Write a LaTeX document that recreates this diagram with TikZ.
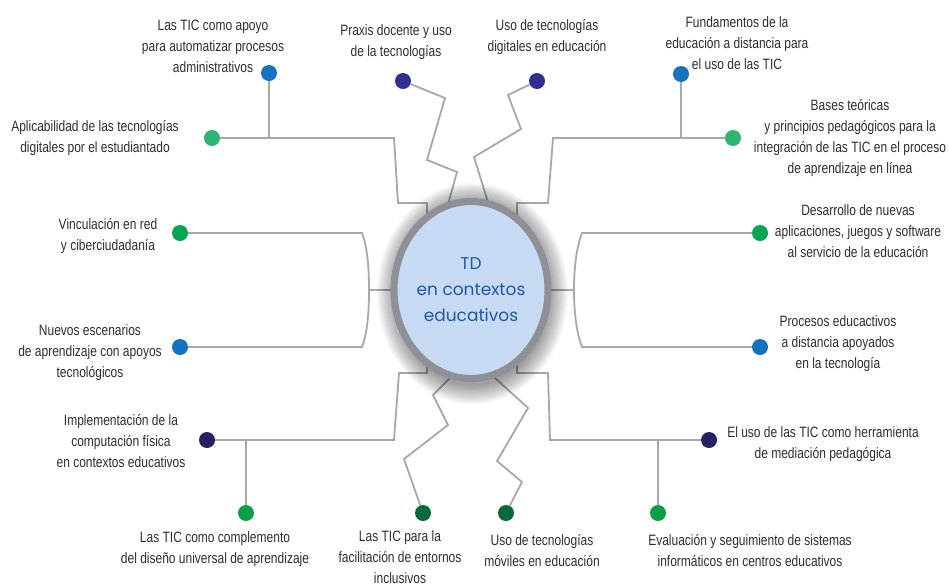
\documentclass[tikz,border=0pt]{standalone}
\usepackage{fontspec}
\setmainfont{Liberation Sans}[FakeStretch=0.8]
\newfontfamily\centerfont{Poppins}
\usetikzlibrary{shapes.geometric}
\definecolor{lineg}{HTML}{A6A8AB}
\definecolor{cblue}{HTML}{1572BE}
\definecolor{clgreen}{HTML}{2DB673}
\definecolor{cgreen}{HTML}{00A651}
\definecolor{cnavy}{HTML}{2E3192}
\definecolor{cdnavy}{HTML}{262262}
\definecolor{cmgreen}{HTML}{0F9D4A}
\definecolor{cdgreen}{HTML}{0B6B38}
\definecolor{efill}{HTML}{C6DBF3}
\definecolor{eborder}{HTML}{8E9095}
\definecolor{etext}{HTML}{2457A7}
\definecolor{ltext}{HTML}{2E2E2E}
\tikzset{
  dot/.style={circle,fill=#1,minimum size=16pt,inner sep=0pt},
  conn/.style={draw=lineg,line width=1.8pt,line join=miter},
  lbl/.style={align=center,text=ltext,font=\fontsize{15}{21}\selectfont,inner sep=0pt},
  glow/.style={fill=black,opacity=0.024},
}
\begin{document}
\begin{tikzpicture}[x=1pt,y=-1pt]
\useasboundingbox[fill=white] (0,0) rectangle (949,587);
% dots
\node[dot=cblue]   (dA) at (269,73)  {};
\node[dot=clgreen] (dB) at (212,138) {};
\node[dot=cnavy]   (dC) at (403,81)  {};
\node[dot=cnavy]   (dD) at (537,81)  {};
\node[dot=cblue]   (dE) at (681,74)  {};
\node[dot=clgreen] (dF) at (733,138) {};
\node[dot=cgreen]  (dG) at (760,233) {};
\node[dot=cblue]   (dH) at (760,347) {};
\node[dot=cgreen]  (dI) at (180,233) {};
\node[dot=cblue]   (dJ) at (180,347) {};
\node[dot=cdnavy]  (dK) at (207,440) {};
\node[dot=cmgreen] (dL) at (246,513) {};
\node[dot=cdgreen] (dM) at (423,513) {};
\node[dot=cdgreen] (dN) at (506,513) {};
\node[dot=cmgreen] (dO) at (658,513) {};
\node[dot=cdnavy]  (dP) at (709,440) {};
% free ends inside the central ellipse
\coordinate (e1) at (427,235);
\coordinate (e2) at (445,215);
\coordinate (e3) at (491,212);
\coordinate (e4) at (517,235);
\coordinate (e5) at (420,290);
\coordinate (e6) at (522,290);
\coordinate (e7) at (427,345);
\coordinate (e8) at (462,366);
\coordinate (e9) at (484,368);
\coordinate (e10) at (517,345);
\coordinate (jA) at (269,138);
\coordinate (jE) at (681,138);
\coordinate (jL) at (246,440);
\coordinate (jO) at (658,440);
% connectors
\draw[conn] (dB) -- (394,138) -- (398,203) -- (427,203) -- (e1);
\draw[conn] (dA) -- (jA);
\draw[conn] (dC) -- (445,98) -- (427,160) -- (457,172) -- (e2);
\draw[conn] (dD) -- (508,95) -- (521,129) -- (474,157) -- (e3);
\draw[conn] (dF) -- (553,138) -- (548,203) -- (517,203) -- (e4);
\draw[conn] (dE) -- (jE);
\draw[conn] (dI) -- (362,233) .. controls (367,246) and (369,265) .. (369,290)
  .. controls (369,315) and (367,334) .. (362,347) -- (dJ);
\draw[conn] (369,290) -- (e5);
\draw[conn] (dG) -- (582,233) .. controls (577,246) and (574,265) .. (574,290)
  .. controls (574,315) and (577,334) .. (582,347) -- (dH);
\draw[conn] (574,290) -- (e6);
\draw[conn] (dK) -- (394,440) -- (399,373) -- (427,373) -- (e7);
\draw[conn] (jL) -- (dL);
\draw[conn] (dM) -- (404,459) -- (448,425) -- (433,395) -- (e8);
\draw[conn] (dN) -- (522,482) -- (497,461) -- (528,408) -- (e9);
\draw[conn] (dP) -- (550,440) -- (548,373) -- (517,373) -- (e10);
\draw[conn] (jO) -- (dO);
% soft shadow round the central ellipse
\foreach \i in {1,...,18}
  \fill[glow] (472.5,293.5) ellipse ({76+\i*1.1} and {91+\i*1.1});
% central ellipse
\node[ellipse,minimum width=147pt,minimum height=177pt,inner sep=0pt,
  draw=eborder,line width=7pt,fill=efill,
  text=etext,align=center,font=\centerfont\fontsize{17}{26}\selectfont]
  (c) at (471,290) {TD\\en contextos\\educativos};
% labels
\node[lbl] (t1) at (213,46) {Las TIC como apoyo\\para automatizar procesos\\administrativos};
\node[lbl] (t2) at (95,138) {Aplicabilidad de las tecnologías\\digitales por el estudiantado};
\node[lbl] (t3) at (396,42) {Praxis docente y uso\\de la tecnologías};
\node[lbl] (t4) at (547,37) {Uso de tecnologías\\digitales en educación};
\node[lbl] (t5) at (737,43) {Fundamentos de la\\educación a distancia para\\el uso de las TIC};
\node[lbl] (t6) at (850,138) {Bases teóricas\\y principios pedagógicos para la\\integración de las TIC en el proceso\\de aprendizaje en línea};
\node[lbl] (t7) at (858,231) {Desarrollo de nuevas\\aplicaciones, juegos y software\\al servicio de la educación};
\node[lbl] (t8) at (838,344) {Procesos educactivos\\a distancia apoyados\\en la tecnología};
\node[lbl] (t9) at (108,236) {Vinculación en red\\y ciberciudadanía};
\node[lbl] (t10) at (90,353) {Nuevos escenarios\\de aprendizaje con apoyos\\tecnológicos};
\node[lbl] (t11) at (121,441) {Implementación de la\\computación física\\en contextos educativos};
\node[lbl] (t12) at (215,549) {Las TIC como complemento\\del diseño universal de aprendizaje};
\node[lbl] (t13) at (400,557) {Las TIC para la\\facilitación de entornos\\inclusivos};
\node[lbl] (t14) at (542,551) {Uso de tecnologías\\móviles en educación};
\node[lbl] (t15) at (750,551) {Evaluación y seguimiento de sistemas\\informáticos en centros educativos};
\node[lbl] (t16) at (823,444) {El uso de las TIC como herramienta\\de mediación pedagógica};
\end{tikzpicture}
\end{document}
